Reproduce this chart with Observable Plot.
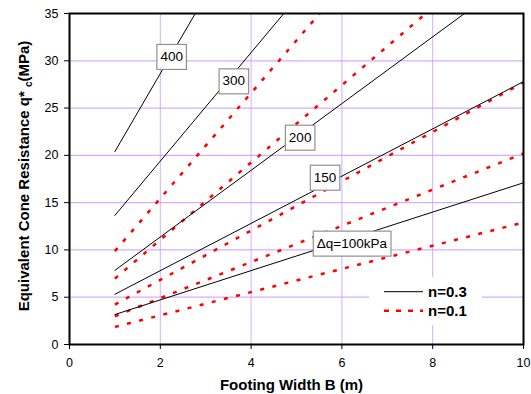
<!DOCTYPE html>
<html><head><meta charset="utf-8">
<script src="https://cdn.jsdelivr.net/npm/d3@7"></script>
<script src="https://cdn.jsdelivr.net/npm/@observablehq/plot@0.6"></script>
<style>
body{margin:0;background:#fff}
svg{font-family:Arial,"Liberation Sans",sans-serif}
</style>
</head><body><div id="chart"></div>
<script>
// Δq series (kPa)
const deltaQ = ["400", "300", "200", "150", "100"];
// n = 0.3 (solid black): start/end points
const B_n03 = [[1, 2.77], [1, 4.72], [1, 8.70], [1, 10], [1, 10]];
const q_n03 = [[20.4, 35], [13.65, 35], [7.84, 35], [5.31, 27.8], [3.17, 17.1]];
// n = 0.1 (dashed red)
const B_n01 = [[1, 5.51], [1, 7.85], [1, 10], [1, 10], [1, 10]];
const q_n01 = [[9.88, 35], [6.97, 35], [4.22, 27.7], [2.99, 20.2], [1.86, 12.9]];
// in-line labels
const labelText = ["400", "300", "200", "150", "Δq=100kPa"];
const labelB = [2.25, 3.62, 5.08, 5.63, 6.22];
const labelQ = [30.44, 27.86, 21.9, 17.67, 10.7];
// ticks
const xTicks = [0, 2, 4, 6, 8, 10];
const yTicks = [0, 5, 10, 15, 20, 25, 30, 35];
const xGrid = [2, 4, 6, 8];
const yGrid = [5, 10, 15, 20, 25, 30];

function rows(Bs, qs) {
  const out = [];
  deltaQ.forEach((dq, i) => Bs[i].forEach((b, j) => out.push({dq, B: b, q: qs[i][j]})));
  return out;
}
const rows03 = rows(B_n03, q_n03);
const rows01 = rows(B_n01, q_n01);
const labels = labelText.map((t, i) => ({t, B: labelB[i], q: labelQ[i]}));

const GRID = "#cc99ff";
const chart = Plot.plot({
  width: 531, height: 394,
  marginLeft: 69, marginRight: 8, marginTop: 13, marginBottom: 50,
  style: {fontFamily: "Arial, 'Liberation Sans', sans-serif", fontSize: "12.5px", color: "black", background: "white", overflow: "visible"},
  x: {domain: [0, 10], label: null},
  y: {domain: [0, 35], label: null},
  marks: [
    Plot.gridX(xGrid, {stroke: GRID, strokeOpacity: 0.8, strokeWidth: 1}),
    Plot.gridY(yGrid, {stroke: GRID, strokeOpacity: 0.8, strokeWidth: 1.3}),
    Plot.line(rows01, {x: "B", y: "q", z: "dq", stroke: "#ff0000", strokeWidth: 2.5, strokeDasharray: "4,8.5", strokeLinecap: "butt"}),
    Plot.line(rows03, {x: "B", y: "q", z: "dq", stroke: "black", strokeWidth: 1}),
    Plot.text(labels, {x: "B", y: "q", text: "t", fontSize: 13.5, fill: "black"}),
    Plot.axisX({ticks: xTicks, tickSize: 5, tickPadding: 9, label: null, fontSize: 12.5}),
    Plot.axisY({ticks: yTicks, tickSize: 5, tickPadding: 6, label: null, fontSize: 12.5}),
    Plot.frame({stroke: "black", strokeWidth: 2})
  ]
});
document.getElementById("chart").append(chart);

const svg = d3.select(chart);
// boxes behind in-line labels
svg.selectAll('g[aria-label="text"] text').each(function() {
  const bb = this.getBBox();
  const padX = 3.5;
  const h = 25;
  const cy = bb.y + bb.height / 2;
  const r = document.createElementNS("http://www.w3.org/2000/svg", "rect");
  r.setAttribute("x", bb.x - padX);
  r.setAttribute("y", cy - h / 2 + 0.5);
  r.setAttribute("width", bb.width + 2 * padX);
  r.setAttribute("height", h);
  r.setAttribute("fill", "white");
  r.setAttribute("stroke", "#909090");
  r.setAttribute("stroke-width", "1.2");
  const tr = this.getAttribute("transform");
  if (tr) r.setAttribute("transform", tr);
  this.parentNode.insertBefore(r, this);
});

// legend
const lg = svg.append("g").attr("text-anchor", "start");
lg.append("rect").attr("x", 369).attr("y", 277).attr("width", 113).attr("height", 48).attr("fill", "white");
lg.append("line").attr("x1", 384).attr("x2", 423).attr("y1", 291.7).attr("y2", 291.7).attr("stroke", "black").attr("stroke-width", 1);
lg.append("line").attr("x1", 384).attr("x2", 423).attr("y1", 310.7).attr("y2", 310.7).attr("stroke", "#ff0000").attr("stroke-width", 2.5).attr("stroke-dasharray", "5,7");
lg.append("text").attr("x", 428).attr("y", 296.8).attr("font-size", 15).attr("font-weight", "bold").text("n=0.3");
lg.append("text").attr("x", 428).attr("y", 315.8).attr("font-size", 15).attr("font-weight", "bold").text("n=0.1");

// axis titles
svg.append("text").attr("x", 291.5).attr("y", 390).attr("text-anchor", "middle")
  .attr("font-size", 15).attr("font-weight", "bold").text("Footing Width B (m)");
const yl = svg.append("text").attr("transform", "translate(29,176) rotate(-90)").attr("text-anchor", "middle")
  .attr("font-size", 15).attr("font-weight", "bold");
yl.append("tspan").text("Equivalent Cone Resistance q* ");
yl.append("tspan").attr("font-size", 10).attr("dy", 3).text("c");
yl.append("tspan").attr("dy", -3).text("(MPa)");
</script>
</body></html>
